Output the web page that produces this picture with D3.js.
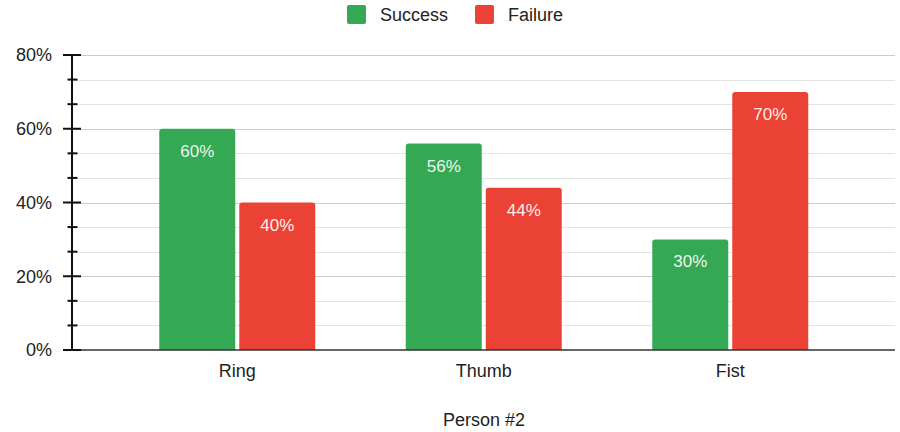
<!DOCTYPE html>
<html>
<head>
<meta charset="utf-8">
<script src="https://cdn.jsdelivr.net/npm/d3@7"></script>
<style>
  html, body { margin: 0; padding: 0; background: #fff; }
  svg { display: block; font-family: "Liberation Sans", Arial, Helvetica, sans-serif; }
</style>
</head>
<body>
<svg id="chart" width="900" height="432"></svg>
<script>
const categories = ["Ring", "Thumb", "Fist"];
const seriesNames = ["Success", "Failure"];
const successValues = [0.60, 0.56, 0.30];
const failureValues = [0.40, 0.44, 0.70];
const yTickValues = [0, 0.2, 0.4, 0.6, 0.8];
const xAxisTitle = "Person #2";
const colors = { Success: "#34A853", Failure: "#EA4335" };

const svg = d3.select("#chart");
const W = 900, H = 432;
const plotLeft = 72, plotRight = 895, plotTop = 55, plotBottom = 350;

const y = d3.scaleLinear().domain([0, 0.8]).range([plotBottom, plotTop]);
const x = d3.scaleBand().domain(categories).range([114, 853.5]).padding(0);
const step = x.bandwidth();
const groupW = 156;
const xs = d3.scaleBand().domain(seriesNames)
  .range([(step - groupW) / 2, (step + groupW) / 2]).paddingInner(0.05).paddingOuter(0);

const minorTicks = d3.range(0, 0.8001, 0.2 / 3).filter(v => !yTickValues.some(t => Math.abs(t - v) < 1e-6));

// gridlines
svg.append("g").selectAll("line.minor").data(minorTicks).join("line")
  .attr("x1", plotLeft).attr("x2", plotRight)
  .attr("y1", d => Math.round(y(d)) + 0.5).attr("y2", d => Math.round(y(d)) + 0.5)
  .attr("stroke", "#e4e4e4").attr("stroke-width", 1);
svg.append("g").selectAll("line.major").data(yTickValues.filter(v => v > 0)).join("line")
  .attr("x1", plotLeft).attr("x2", plotRight)
  .attr("y1", d => Math.round(y(d)) + 0.5).attr("y2", d => Math.round(y(d)) + 0.5)
  .attr("stroke", "#cccccc").attr("stroke-width", 1);

// bars
const data = [];
categories.forEach((c, i) => {
  data.push({ cat: c, s: "Success", v: successValues[i] });
  data.push({ cat: c, s: "Failure", v: failureValues[i] });
});

function topRoundedRect(x0, y0, w, h, r) {
  return `M${x0},${y0 + h}V${y0 + r}Q${x0},${y0} ${x0 + r},${y0}H${x0 + w - r}Q${x0 + w},${y0} ${x0 + w},${y0 + r}V${y0 + h}Z`;
}

svg.append("g").selectAll("path").data(data).join("path")
  .attr("d", d => {
    const x0 = x(d.cat) + xs(d.s);
    const y0 = y(d.v);
    return topRoundedRect(x0, y0, xs.bandwidth(), y(0) - y0, 3);
  })
  .attr("fill", d => colors[d.s]);

svg.append("g").selectAll("text").data(data).join("text")
  .attr("x", d => x(d.cat) + xs(d.s) + xs.bandwidth() / 2)
  .attr("y", d => y(d.v) + 28)
  .attr("text-anchor", "middle")
  .attr("font-size", 17)
  .attr("fill", "#ffffff")
  .attr("fill-opacity", 0.93)
  .text(d => Math.round(d.v * 100) + "%");

// baseline
svg.append("line")
  .attr("x1", plotLeft).attr("x2", plotRight)
  .attr("y1", plotBottom).attr("y2", plotBottom)
  .attr("stroke", "#333").attr("stroke-width", 1.5);

// y axis
const yAxis = d3.axisLeft(y).tickValues(yTickValues).tickFormat(d3.format(".0%")).tickSize(0).tickPadding(20);
const gy = svg.append("g").attr("transform", `translate(${plotLeft},0)`).call(yAxis);
gy.select(".domain").remove();
gy.selectAll("text").attr("font-size", 18).attr("fill", "#222").attr("font-family", "\"Liberation Sans\", Arial, sans-serif");
svg.append("line").attr("x1", plotLeft).attr("x2", plotLeft).attr("y1", plotTop).attr("y2", plotBottom)
  .attr("stroke", "#111").attr("stroke-width", 2);
svg.append("g").selectAll("line").data(yTickValues).join("line")
  .attr("x1", plotLeft - 9).attr("x2", plotLeft + 9)
  .attr("y1", d => y(d)).attr("y2", d => y(d))
  .attr("stroke", "#111").attr("stroke-width", 2);
svg.append("g").selectAll("line").data(minorTicks).join("line")
  .attr("x1", plotLeft - 4.5).attr("x2", plotLeft + 5.5)
  .attr("y1", d => y(d)).attr("y2", d => y(d))
  .attr("stroke", "#111").attr("stroke-width", 2);

// x axis labels
const xAxis = d3.axisBottom(x).tickSize(0).tickPadding(14);
const gx = svg.append("g").attr("transform", `translate(0,${plotBottom})`).call(xAxis);
gx.select(".domain").remove();
gx.selectAll("text").attr("font-size", 18).attr("fill", "#222").attr("font-family", "\"Liberation Sans\", Arial, sans-serif");

// x axis title
svg.append("text").attr("x", 484).attr("y", 426).attr("text-anchor", "middle")
  .attr("font-size", 18).attr("fill", "#222").text(xAxisTitle);

// legend
const legendItems = [
  { name: "Success", x: 347 },
  { name: "Failure", x: 475 }
];
const lg = svg.append("g").selectAll("g").data(legendItems).join("g")
  .attr("transform", d => `translate(${d.x},5)`);
lg.append("rect").attr("width", 19).attr("height", 19).attr("rx", 2)
  .attr("fill", d => colors[d.name]);
lg.append("text").attr("x", 33).attr("y", 16).attr("font-size", 18).attr("fill", "#222")
  .text(d => d.name);
</script>
</body>
</html>
